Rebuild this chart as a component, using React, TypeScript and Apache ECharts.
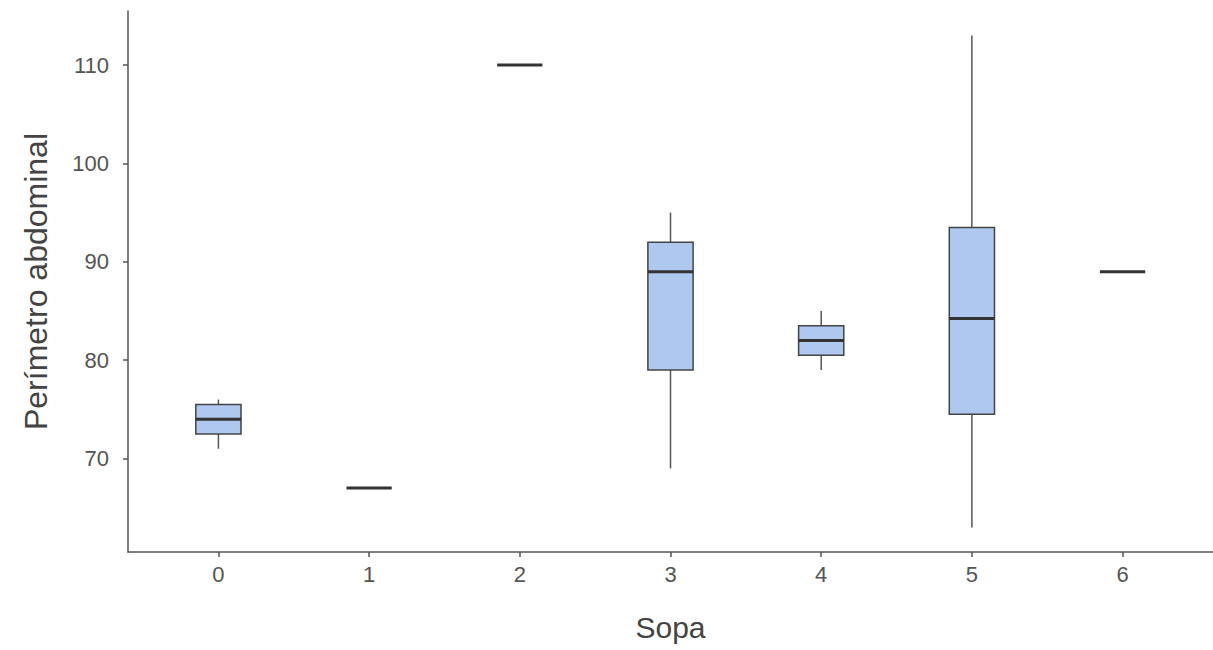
import React, { useEffect, useRef } from "react";
import * as echarts from "echarts";

const categories = ["0", "1", "2", "3", "4", "5", "6"];
const mins = [71, 67, 110, 69, 79, 63, 89];
const q1s = [72.5, 67, 110, 79, 80.5, 74.5, 89];
const medians = [74, 67, 110, 89, 82, 84.25, 89];
const q3s = [75.5, 67, 110, 92, 83.5, 93.5, 89];
const maxs = [76, 67, 110, 95, 85, 113, 89];
const yTicks = [70, 80, 90, 100, 110];
const xTicks = [0, 1, 2, 3, 4, 5, 6];

const FONT = "'Liberation Sans', Arial, sans-serif";

export default function App() {
  const ref = useRef<HTMLDivElement>(null);
  useEffect(() => {
    if (!ref.current) return;
    const chart = echarts.init(ref.current, null, { renderer: "svg" });
    const data = categories.map((_, i) => [i, mins[i], q1s[i], medians[i], q3s[i], maxs[i]]);
    const option: any = {
      animation: false,
      backgroundColor: "#ffffff",
      grid: { left: 128, right: 0, top: 11, bottom: 98, containLabel: false },
      xAxis: {
        type: "value",
        min: -0.6,
        max: 6.6,
        name: "Sopa",
        nameLocation: "middle",
        nameGap: 60,
        nameTextStyle: { fontSize: 30, color: "#444", fontFamily: FONT },
        axisLine: { show: true, onZero: false, lineStyle: { color: "#555", width: 1.5 } },
        axisTick: { show: true, length: 5, customValues: xTicks, lineStyle: { color: "#555", width: 1.5 } },
        axisLabel: {
          customValues: xTicks,
          formatter: (v: number) => categories[Math.round(v)] ?? "",
          fontSize: 22,
          color: "#555",
          fontFamily: FONT,
          margin: 11,
        },
        splitLine: { show: false },
      },
      yAxis: {
        type: "value",
        min: 60.5,
        max: 115.5,
        name: "Perímetro abdominal",
        nameLocation: "middle",
        nameGap: 76,
        nameRotate: 90,
        nameTextStyle: { fontSize: 32, color: "#444", fontFamily: FONT },
        axisLine: { show: true, onZero: false, lineStyle: { color: "#555", width: 1.5 } },
        axisTick: { show: true, length: 5, customValues: yTicks, lineStyle: { color: "#555", width: 1.5 } },
        axisLabel: {
          customValues: yTicks,
          fontSize: 22,
          color: "#555",
          fontFamily: FONT,
          margin: 19,
        },
        splitLine: { show: false },
      },
      series: [
        {
          type: "custom",
          data,
          encode: { x: 0, y: [1, 2, 3, 4, 5] },
          renderItem: (params: any, api: any) => {
            const x = api.value(0);
            const pMin = api.coord([x, api.value(1)]);
            const pQ1 = api.coord([x, api.value(2)]);
            const pMed = api.coord([x, api.value(3)]);
            const pQ3 = api.coord([x, api.value(4)]);
            const pMax = api.coord([x, api.value(5)]);
            const half = api.size([0.3, 0])[0] / 2;
            const cx = pMed[0];
            const children: any[] = [];
            if (pMax[1] < pQ3[1]) {
              children.push({
                type: "line",
                shape: { x1: cx, y1: pMax[1], x2: cx, y2: pQ3[1] },
                style: { stroke: "#555", lineWidth: 1.5 },
              });
            }
            if (pMin[1] > pQ1[1]) {
              children.push({
                type: "line",
                shape: { x1: cx, y1: pQ1[1], x2: cx, y2: pMin[1] },
                style: { stroke: "#555", lineWidth: 1.5 },
              });
            }
            if (pQ1[1] - pQ3[1] > 0.5) {
              children.push({
                type: "rect",
                shape: { x: cx - half, y: pQ3[1], width: half * 2, height: pQ1[1] - pQ3[1] },
                style: { fill: "#aec8f0", stroke: "#444", lineWidth: 1.5 },
              });
            }
            children.push({
              type: "line",
              shape: { x1: cx - half, y1: pMed[1], x2: cx + half, y2: pMed[1] },
              style: { stroke: "#333", lineWidth: 3 },
            });
            return { type: "group", children };
          },
        },
      ],
    };
    chart.setOption(option);
    return () => chart.dispose();
  }, []);
  return (
    <div
      ref={ref}
      style={{ position: "fixed", left: 0, top: 0, width: 1213, height: 650, background: "#fff" }}
    />
  );
}
